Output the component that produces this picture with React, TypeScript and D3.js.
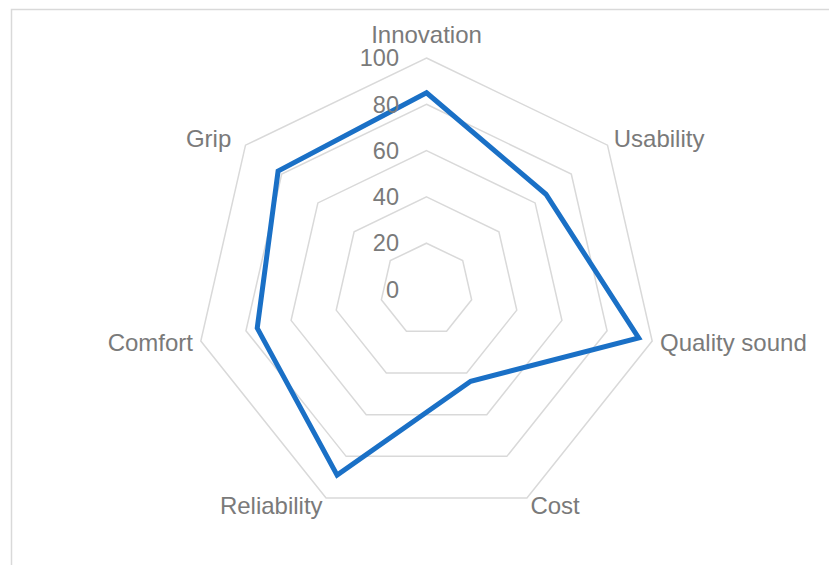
import React from "react";
import * as d3 from "d3";

const categories = ["Innovation", "Usability", "Quality sound", "Cost", "Reliability", "Comfort", "Grip"];
const values = [85, 66, 94, 44, 89, 75, 82];
const ticks = [0, 20, 40, 60, 80, 100];

const W = 829;
const H = 565;
const cx = 426.5;
const cy = 289.5;
const R = 231.5;
const FONT = "'Liberation Sans', Arial, sans-serif";
const FS = 24;
const TEXT = "#7a7a7a";
const GRID = "#d9d9d9";
const LINE = "#1a70c6";

export default function App() {
  const r = d3.scaleLinear().domain([0, 100]).range([0, R]);
  const angle = d3
    .scaleLinear()
    .domain([0, categories.length])
    .range([0, 2 * Math.PI]);

  const ringLine = d3
    .lineRadial<number>()
    .angle((_, i) => angle(i))
    .radius((d) => r(d))
    .curve(d3.curveLinearClosed);

  const dataLine = d3
    .lineRadial<number>()
    .angle((_, i) => angle(i))
    .radius((d) => r(d))
    .curve(d3.curveLinearClosed);

  return (
    <svg
      width={W}
      height={H}
      style={{ position: "fixed", left: 0, top: 0, background: "#fff" }}
      fontFamily={FONT}
    >
      <rect x={11.5} y={9.5} width={900} height={700} fill="#fff" stroke={GRID} strokeWidth={1.5} />
      <g transform={`translate(${cx},${cy})`}>
        {ticks
          .filter((t) => t > 0)
          .map((t) => (
            <path
              key={t}
              d={ringLine(categories.map(() => t)) || ""}
              fill="none"
              stroke={GRID}
              strokeWidth={1.5}
            />
          ))}
        <path
          d={dataLine(values) || ""}
          fill="none"
          stroke={LINE}
          strokeWidth={5}
          strokeLinejoin="miter"
        />
        {ticks.map((t) => (
          <text
            key={t}
            x={-27.5}
            y={-r(t)}
            dy="0.35em"
            textAnchor="end"
            fontSize={23.5}
            fill={TEXT}
          >
            {t}
          </text>
        ))}
        {categories.map((c, i) => {
          const a = angle(i);
          const s = Math.sin(a);
          const co = Math.cos(a);
          const anchor = s > 0.1 ? "start" : s < -0.1 ? "end" : "middle";
          if (anchor === "middle") {
            return (
              <text key={c} x={0} y={-R - 15.5} textAnchor="middle" fontSize={FS} fill={TEXT}>
                {c}
              </text>
            );
          }
          const rr = R + 8;
          // Excel pushes upper-left labels a bit further out
          const extraX = s < 0 && co > 0.3 ? -8 : 0;
          const extraY = co > 0.3 ? -1.5 : 0;
          return (
            <text
              key={c}
              x={rr * s + extraX}
              y={-rr * co + extraY}
              dy="0.35em"
              textAnchor={anchor}
              fontSize={FS}
              fill={TEXT}
            >
              {c}
            </text>
          );
        })}
      </g>
    </svg>
  );
}
